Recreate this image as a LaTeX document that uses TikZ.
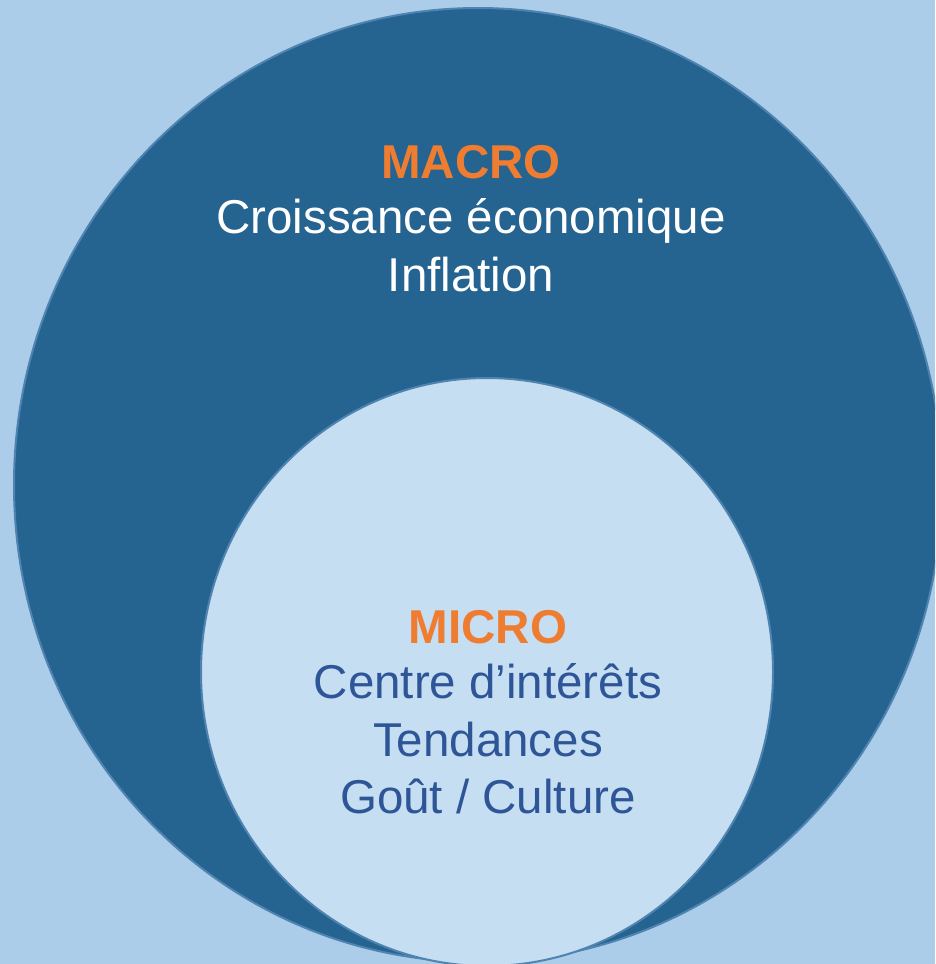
\documentclass[tikz,border=0pt]{standalone}
\usepackage{fontspec}
\setmainfont{Liberation Sans}

\definecolor{bgblue}{HTML}{ABCDEA}
\definecolor{macroblue}{HTML}{256390}
\definecolor{microblue}{HTML}{C6DEF1}
\definecolor{ringblue}{HTML}{4F83B0}
\definecolor{headorange}{HTML}{EE7D31}
\definecolor{microtext}{HTML}{2E5597}

\tikzset{
  ringline/.style={draw=ringblue, line width=2pt},
  headtext/.style={anchor=base, inner sep=0pt, text=headorange,
    font=\bfseries\fontsize{47.5}{57}\selectfont},
  macroline/.style={anchor=base, inner sep=0pt, text=white,
    font=\fontsize{47.5}{57}\selectfont},
  microline/.style={anchor=base, inner sep=0pt, text=microtext,
    font=\fontsize{47.5}{57}\selectfont}
}

\begin{document}
\begin{tikzpicture}[x=1pt,y=-1pt]
    \useasboundingbox (0,0) rectangle (935,964);
    \clip (0,0) rectangle (935,964);
    \fill[bgblue] (0,0) rectangle (935,964);

    % outer circle
    \draw[ringline, fill=macroblue] (478,485) ellipse [x radius=464, y radius=477];
    % inner circle
    \draw[ringline, fill=microblue] (487,672) ellipse [x radius=286, y radius=294];

    \node[headtext] (macro) at (471,178) {MACRO};
    \node[macroline] (croissance) at (471,233) {Croissance économique};
    \node[macroline] (inflation) at (471,291) {Inflation};

    \node[headtext] (micro) at (488,643) {MICRO};
    \node[microline] (centre) at (488,698) {Centre d’intérêts};
    \node[microline] (tendances) at (488,756) {Tendances};
    \node[microline] (gout) at (488,813) {Goût / Culture};
\end{tikzpicture}
\end{document}
